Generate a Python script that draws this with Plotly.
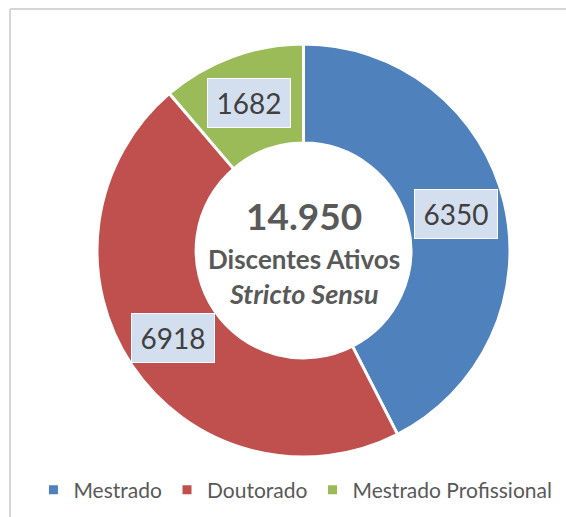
import math
import plotly.graph_objects as go

# ---- data ----
categories = ["Mestrado", "Doutorado", "Mestrado Profissional"]
values = [6350, 6918, 1682]
colors = ["#4F81BD", "#C0504D", "#9BBB59"]
center_title = "Discentes Ativos"
center_subtitle = "Stricto Sensu"

# ---- layout geometry (pixels) ----
W, H = 566, 517
FONT = "Lato"
dom_x = [97 / W, 510 / W]
dom_y = [1 - 457 / H, 1 - 44 / H]
hole = 0.52

fig = go.Figure(
    go.Pie(
        labels=categories,
        values=values,
        sort=False,
        direction="clockwise",
        rotation=0,
        hole=hole,
        marker=dict(colors=colors, line=dict(color="white", width=3)),
        textinfo="none",
        hoverinfo="label+value",
        domain=dict(x=dom_x, y=dom_y),
    )
)

# pie geometry in pixels (derived from domain)
cx = (dom_x[0] + dom_x[1]) / 2 * W
cy = (1 - (dom_y[0] + dom_y[1]) / 2) * H
R = min((dom_x[1] - dom_x[0]) * W, (dom_y[1] - dom_y[0]) * H) / 2
r_mid = R * (1 + hole) / 2

annotations = []
total = sum(values)
cum = 0
for v in values:
    theta = math.radians((cum + v / 2) / total * 360)
    cum += v
    px = cx + r_mid * math.sin(theta)
    py = cy - r_mid * math.cos(theta)
    annotations.append(
        dict(
            x=px / W, y=1 - py / H, xref="paper", yref="paper",
            text=str(v), showarrow=False,
            font=dict(family=FONT, size=28, color="#404040"),
            bgcolor="#d3dfee", bordercolor="#ffffff", borderwidth=1,
            width=80, height=46, xanchor="center", yanchor="middle",
        )
    )

total_txt = f"{total:,}".replace(",", ".")
annotations += [
    dict(x=cx / W, y=1 - (cy - 35) / H, xref="paper", yref="paper",
         text=f"<b>{total_txt}</b>", showarrow=False,
         font=dict(family=FONT, size=37, color="#595959"),
         xanchor="center", yanchor="middle"),
    dict(x=cx / W, y=1 - (cy + 8) / H, xref="paper", yref="paper",
         text=f"<b>{center_title}</b>", showarrow=False,
         font=dict(family=FONT, size=26, color="#595959"),
         xanchor="center", yanchor="middle"),
    dict(x=cx / W, y=1 - (cy + 43) / H, xref="paper", yref="paper",
         text=f"<b><i>{center_subtitle}</i></b>", showarrow=False,
         font=dict(family=FONT, size=27, color="#595959"),
         xanchor="center", yanchor="middle"),
]

bx, by = 10 / W, 1 - 9 / H
shapes = [
    dict(type="line", xref="paper", yref="paper", x0=bx, y0=by, x1=1.05, y1=by,
         line=dict(color="#d6d6d6", width=2)),
    dict(type="line", xref="paper", yref="paper", x0=bx, y0=by, x1=bx, y1=-0.05,
         line=dict(color="#d6d6d6", width=2)),
]

fig.update_layout(
    width=W, height=H,
    margin=dict(l=0, r=0, t=0, b=0),
    paper_bgcolor="white",
    font=dict(family=FONT, color="#595959"),
    showlegend=True,
    legend=dict(orientation="h", x=0.522, xanchor="center", y=1 - 490 / H,
                yanchor="middle", font=dict(family=FONT, size=21, color="#595959"),
                itemwidth=30, traceorder="normal"),
    annotations=annotations,
    shapes=shapes,
)

fig.write_html("out.html", config={"displayModeBar": False},
               post_script="document.body.style.margin='0';")
